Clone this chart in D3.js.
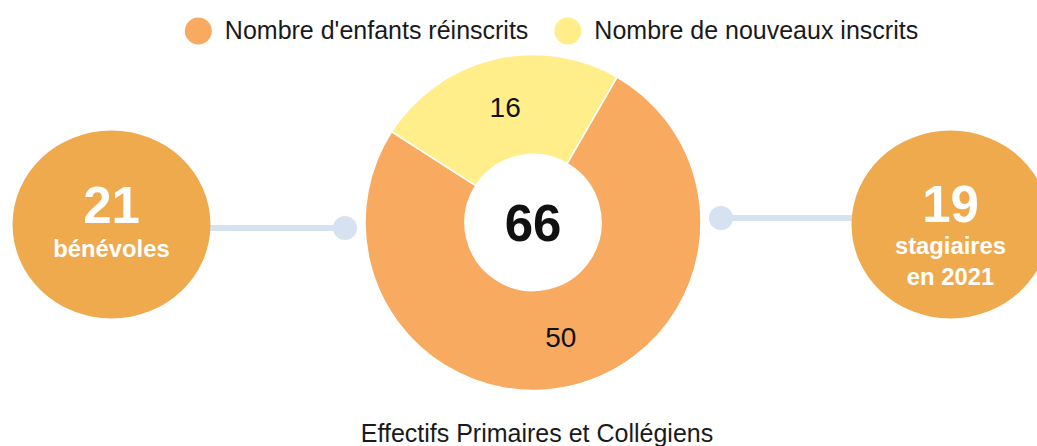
<!DOCTYPE html>
<html><head><meta charset="utf-8">
<script src="https://cdn.jsdelivr.net/npm/d3@7"></script>
<style>
html,body{margin:0;padding:0;background:#fff;}
svg{display:block;font-family:"Liberation Sans",Arial,sans-serif;}
</style></head>
<body>
<svg id="chart" width="1037" height="446"></svg>
<script>
const categories = ["Nombre d'enfants réinscrits", "Nombre de nouveaux inscrits"];
const values = [50, 16];
const colors = ["#F7AA60", "#FFEE8A"];
const totalLabel = "66";
const title = "Effectifs Primaires et Collégiens";
const leftBubble = {value: "21", lines: ["bénévoles"]};
const rightBubble = {value: "19", lines: ["stagiaires", "en 2021"]};

const svg = d3.select("#chart");

// Legend
const legend = svg.append("g");
let x = 0;
categories.forEach((c, i) => {
  const g = legend.append("g");
  g.append("circle").attr("cx", 13.5).attr("cy", 0).attr("r", 13.5).attr("fill", colors[i]);
  const t = g.append("text").attr("x", 40).attr("y", 7.5).attr("font-size", 25).attr("fill", "#1a1a1a").text(c);
  const w = 40 + t.node().getComputedTextLength();
  g.attr("transform", `translate(${x},31)`);
  x += w + 26;
});
const legendW = x - 26;
legend.attr("transform", `translate(${551.5 - legendW / 2},0)`);

// Donut
const cx = 533, cy = 222.5, rOuter = 168, rInner = 68;
const pie = d3.pie().sort(null).startAngle(Math.PI / 6).endAngle(Math.PI / 6 + 2 * Math.PI);
const arc = d3.arc().innerRadius(rInner).outerRadius(rOuter);
const labelArc = d3.arc().innerRadius(118).outerRadius(118);
const arcs = pie(values);
const donut = svg.append("g").attr("transform", `translate(${cx},${cy})`);
donut.selectAll("path").data(arcs).join("path")
  .attr("d", arc).attr("fill", (d, i) => colors[i])
  .attr("stroke", "#fff").attr("stroke-width", 1.5);
donut.selectAll("text.lbl").data(arcs).join("text").attr("class", "lbl")
  .attr("transform", d => `translate(${labelArc.centroid(d)})`)
  .attr("text-anchor", "middle").attr("dominant-baseline", "central")
  .attr("font-size", 28).attr("fill", "#111")
  .text(d => d.data);
donut.append("text").attr("text-anchor", "middle").attr("y", 18)
  .attr("font-size", 51).attr("font-weight", "bold").attr("fill", "#111").text(totalLabel);

// Connectors
const lineColor = "#D6E2F2";
svg.append("line").attr("x1", 200).attr("x2", 345).attr("y1", 228).attr("y2", 228)
  .attr("stroke", lineColor).attr("stroke-width", 6);
svg.append("circle").attr("cx", 345).attr("cy", 228).attr("r", 12).attr("fill", lineColor);
svg.append("line").attr("x1", 721).attr("x2", 870).attr("y1", 218).attr("y2", 218)
  .attr("stroke", lineColor).attr("stroke-width", 6);
svg.append("circle").attr("cx", 721).attr("cy", 218).attr("r", 12).attr("fill", lineColor);

// Bubbles
const bubbleColor = "#EEAA4D";
function bubble(b, bx, by, valueY, lineYs) {
  svg.append("ellipse").attr("cx", bx).attr("cy", by).attr("rx", 99).attr("ry", 94).attr("fill", bubbleColor);
  svg.append("text").attr("x", bx).attr("y", valueY).attr("text-anchor", "middle")
    .attr("font-size", 51).attr("font-weight", "bold").attr("fill", "#fff").text(b.value);
  b.lines.forEach((l, i) => {
    svg.append("text").attr("x", bx).attr("y", lineYs[i]).attr("text-anchor", "middle")
      .attr("font-size", 23.8).attr("font-weight", "bold").attr("fill", "#fff").text(l);
  });
}
bubble(leftBubble, 111.5, 224.5, 223, [256.5]);
bubble(rightBubble, 950.5, 224.5, 222, [253.5, 284.5]);

// Title
svg.append("text").attr("x", 537).attr("y", 441.5).attr("text-anchor", "middle")
  .attr("font-size", 25).attr("fill", "#1a1a1a").text(title);
</script>
</body></html>
